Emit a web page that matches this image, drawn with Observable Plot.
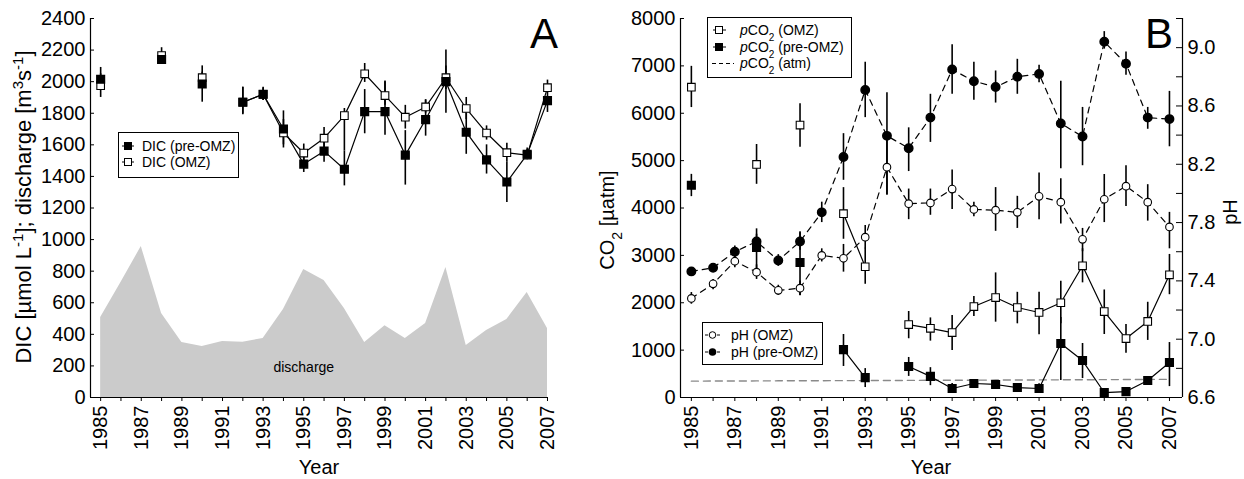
<!DOCTYPE html>
<html><head><meta charset="utf-8">
<script src="https://cdn.jsdelivr.net/npm/d3@7"></script>
<script src="https://cdn.jsdelivr.net/npm/@observablehq/plot@0.6"></script>
<style>
body{margin:0;background:#fff;}
#wrap{position:relative;width:1244px;height:479px;font-family:"Liberation Sans",Arial,sans-serif;background:#fff;overflow:hidden;}
#wrap svg{position:absolute;top:0;}
</style></head><body><div id="wrap"></div>
<script>
// ---------- DATA ----------
const years = [1985,1986,1987,1988,1989,1990,1991,1992,1993,1994,1995,1996,1997,1998,1999,2000,2001,2002,2003,2004,2005,2006,2007];
const yearLabels = [1985,1987,1989,1991,1993,1995,1997,1999,2001,2003,2005,2007];

// Panel A
const discharge = [507,728,956,532,348,323,355,350,374,557,810,741,564,348,455,374,468,823,329,424,494,665,437];
const dicPre   = [2015,null,null,2140,null,1985,null,1870,1920,1700,1478,1560,1445,1810,1810,1535,1760,2000,1680,1505,1365,1540,1880];
const dicPreLo = [1945,null,null,2110,null,1870,null,1795,1880,1580,1425,1490,1340,1670,1660,1345,1655,1800,1540,1415,1235,1510,1805];
const dicPreHi = [2090,null,null,2175,null,2060,null,1965,1965,1815,1540,1640,1560,1950,2005,1690,1885,2200,1820,1600,1490,1570,1950];
const dicOmz   = [1975,null,null,2165,null,2025,null,1870,1920,1675,1548,1642,1785,2050,1912,1775,1840,2025,1830,1675,1550,1535,1962];
const dicOmzLo = [1900,null,null,2130,null,1980,null,1790,1880,1600,1500,1560,1560,1995,1850,1700,1800,1950,1760,1630,1490,1505,1930];
const dicOmzHi = [2050,null,null,2215,null,2100,null,1965,1960,1760,1605,1710,1830,2115,2000,1850,1885,2100,1900,1720,1610,1580,2010];
const dicTicks = [0,200,400,600,800,1000,1200,1400,1600,1800,2000,2200,2400];

// Panel B
const pco2Omz   = [6550,null,null,4920,null,5750,null,3880,2760,null,1540,1460,1370,1920,2110,1900,1795,2000,2780,1815,1245,1605,2590];
const pco2OmzLo = [6120,null,null,4500,null,5280,null,3340,2390,null,1240,1190,990,1710,1590,1555,1325,1555,2420,1330,935,1205,2170];
const pco2OmzHi = [6990,null,null,5340,null,6200,null,4430,3150,null,1815,1680,1730,2130,2630,2220,2220,2455,3140,2270,1540,2010,3020];
const pco2Pre   = [4480,null,null,3170,null,2850,null,1010,420,null,655,445,190,295,275,210,190,1140,780,105,125,360,740];
const pco2PreLo = [4240,null,null,2700,null,2150,null,655,210,null,445,250,105,210,200,150,100,360,400,60,80,300,230];
const pco2PreHi = [4710,null,null,3560,null,3500,null,1330,610,null,845,630,295,380,340,270,290,1690,1140,150,170,420,1160];
const pco2Atm   = [345,347,349,350,352,354,355,356,357,359,361,363,364,366,368,369,371,373,375,377,379,381,383];
const phOmz   = [7.28,7.38,7.535,7.46,7.335,7.35,7.575,7.555,7.70,8.18,7.93,7.935,8.03,7.89,7.885,7.87,7.98,7.94,7.685,7.96,8.05,7.94,7.77];
const phOmzLo = [7.24,7.34,7.49,7.41,7.30,7.30,7.53,7.46,7.62,7.99,7.82,7.85,7.89,7.84,7.74,7.76,7.82,7.79,7.60,7.80,7.91,7.81,7.62];
const phOmzHi = [7.32,7.41,7.58,7.51,7.37,7.40,7.62,7.65,7.78,8.39,8.03,8.03,8.16,7.94,8.04,7.98,8.14,8.10,7.76,8.13,8.19,8.06,7.87];
const phPre   = [7.465,7.49,7.60,7.67,7.54,7.67,7.87,8.25,8.71,8.395,8.31,8.52,8.85,8.77,8.73,8.80,8.82,8.48,8.39,9.04,8.89,8.52,8.51];
const phPreLo = [7.44,7.47,7.56,7.62,7.50,7.61,7.80,8.09,8.52,7.99,8.15,8.35,8.68,8.64,8.62,8.68,8.76,8.17,8.19,8.99,8.81,8.44,8.32];
const phPreHi = [7.49,7.51,7.64,7.72,7.58,7.73,7.94,8.41,8.90,8.69,8.45,8.68,9.02,8.90,8.84,8.92,8.88,8.77,8.59,9.11,8.97,8.59,8.70];
const co2Ticks = [0,1000,2000,3000,4000,5000,6000,7000,8000];
const phLabelTicks = [6.6,7.0,7.4,7.8,8.2,8.6,9.0];
const phAllTicks = [6.6,6.8,7.0,7.2,7.4,7.6,7.8,8.0,8.2,8.4,8.6,8.8,9.0,9.2];

// ---------- SETTINGS ----------
const font = "'Liberation Sans', Arial, sans-serif";
const tickFont = 20;
const H = 479, mTop = 18, mBottom = 82;
const A = {left: 0, width: 590, mL: 90, mR: 42, xDomain: [1984.5, 2007.05], yDomain: [0, 2400]};
const B = {left: 590, width: 654, mL: 90, mR: 62, xDomain: [1984.5, 2007.6], yDomain: [0, 8000]};
const phDomain = [6.6, 9.2];
const co2FromPH = p => p == null ? null : (p - phDomain[0]) / (phDomain[1] - phDomain[0]) * B.yDomain[1];
const phFromCO2 = c => phDomain[0] + c / B.yDomain[1] * (phDomain[1] - phDomain[0]);

const rowsA = years.map((year, i) => ({year, q: discharge[i], pre: dicPre[i], preLo: dicPreLo[i], preHi: dicPreHi[i], omz: dicOmz[i], omzLo: dicOmzLo[i], omzHi: dicOmzHi[i]}));
const rowsB = years.map((year, i) => ({year,
  co2o: pco2Omz[i], co2oLo: pco2OmzLo[i], co2oHi: pco2OmzHi[i],
  co2p: pco2Pre[i], co2pLo: pco2PreLo[i], co2pHi: pco2PreHi[i],
  atm: pco2Atm[i],
  pho: co2FromPH(phOmz[i]), phoLo: co2FromPH(phOmzLo[i]), phoHi: co2FromPH(phOmzHi[i]),
  php: co2FromPH(phPre[i]), phpLo: co2FromPH(phPreLo[i]), phpHi: co2FromPH(phPreHi[i])}));

const xAxis = () => Plot.axisX(years, {tickSize: 4, tickPadding: 4, tickRotate: -90, fontSize: tickFont,
  tickFormat: d => yearLabels.includes(d) ? String(d) : "", label: null});

const wrap = document.getElementById("wrap");

// ---------- PANEL A ----------
const innerA = A.width - A.mL - A.mR;
const plotA = Plot.plot({
  width: A.width, height: H, marginLeft: A.mL, marginRight: A.mR, marginTop: mTop, marginBottom: mBottom,
  style: {fontFamily: font, fontSize: "20px", color: "black", background: "transparent", overflow: "visible"},
  x: {domain: A.xDomain}, y: {domain: A.yDomain},
  marks: [
    Plot.areaY(rowsA, {x: "year", y: "q", fill: "#cbcbcb"}),
    Plot.text([{year: 1995, v: 190, t: "discharge"}], {x: "year", y: "v", text: "t", fontSize: 14}),
    Plot.ruleX(rowsA, {x: "year", y1: "omzLo", y2: "omzHi", strokeWidth: 1.6}),
    Plot.ruleX(rowsA, {x: "year", y1: "preLo", y2: "preHi", strokeWidth: 1.6}),
    Plot.line(rowsA, {x: "year", y: "pre", strokeWidth: 1.2}),
    Plot.line(rowsA, {x: "year", y: "omz", strokeWidth: 1.2}),
    Plot.dot(rowsA, {x: "year", y: "omz", symbol: "square", r: 4.3, fill: "white", stroke: "black", strokeWidth: 1.1}),
    Plot.dot(rowsA, {x: "year", y: "pre", symbol: "square", r: 4.3, fill: "black", stroke: "black"}),
    Plot.ruleX([A.xDomain[0]], {y1: A.yDomain[0], y2: A.yDomain[1], strokeWidth: 1.2}),
    Plot.ruleY([A.yDomain[0]], {strokeWidth: 1.2}),
    Plot.tickY(dicTicks, {y: d => d, insetRight: innerA - 4}),
    Plot.axisY(dicTicks, {anchor: "left", tickSize: 0, tickPadding: 5, fontSize: tickFont, tickFormat: d => String(d), label: null}),
    xAxis()
  ]
});
plotA.style.left = A.left + "px";
wrap.appendChild(plotA);

// ---------- PANEL B ----------
const innerB = B.width - B.mL - B.mR;
const plotB = Plot.plot({
  width: B.width, height: H, marginLeft: B.mL, marginRight: B.mR, marginTop: mTop, marginBottom: mBottom,
  style: {fontFamily: font, fontSize: "20px", color: "black", background: "transparent", overflow: "visible"},
  x: {domain: B.xDomain}, y: {domain: B.yDomain},
  marks: [
    Plot.line(rowsB, {x: "year", y: "atm", stroke: "#8a8a8a", strokeWidth: 1.4, strokeDasharray: "7,5"}),
    Plot.ruleX(rowsB, {x: "year", y1: "phoLo", y2: "phoHi", strokeWidth: 1.6}),
    Plot.ruleX(rowsB, {x: "year", y1: "phpLo", y2: "phpHi", strokeWidth: 1.6}),
    Plot.ruleX(rowsB, {x: "year", y1: "co2oLo", y2: "co2oHi", strokeWidth: 1.6}),
    Plot.ruleX(rowsB, {x: "year", y1: "co2pLo", y2: "co2pHi", strokeWidth: 1.6}),
    Plot.line(rowsB, {x: "year", y: "pho", strokeWidth: 1.2, strokeDasharray: "6,5"}),
    Plot.line(rowsB, {x: "year", y: "php", strokeWidth: 1.2, strokeDasharray: "6,5"}),
    Plot.line(rowsB, {x: "year", y: "co2o", strokeWidth: 1.2}),
    Plot.line(rowsB, {x: "year", y: "co2p", strokeWidth: 1.2}),
    Plot.dot(rowsB, {x: "year", y: "pho", r: 3.8, fill: "white", stroke: "black", strokeWidth: 1.1}),
    Plot.dot(rowsB, {x: "year", y: "php", r: 4.2, fill: "black", stroke: "black"}),
    Plot.dot(rowsB, {x: "year", y: "co2o", symbol: "square", r: 4.3, fill: "white", stroke: "black", strokeWidth: 1.1}),
    Plot.dot(rowsB, {x: "year", y: "co2p", symbol: "square", r: 4.3, fill: "black", stroke: "black"}),
    Plot.ruleX(B.xDomain, {y1: B.yDomain[0], y2: B.yDomain[1], strokeWidth: 1.2}),
    Plot.ruleY([B.yDomain[0]], {strokeWidth: 1.2}),
    Plot.tickY(co2Ticks, {y: d => d, insetRight: innerB - 4}),
    Plot.axisY(co2Ticks, {anchor: "left", tickSize: 0, tickPadding: 5, fontSize: tickFont, tickFormat: d => String(d), label: null}),
    Plot.tickY(phAllTicks.map(co2FromPH), {y: d => d, insetLeft: innerB - 6}),
    Plot.axisY(phLabelTicks.map(co2FromPH), {anchor: "right", tickSize: 0, tickPadding: 5, fontSize: tickFont, tickFormat: d => phFromCO2(d).toFixed(1), label: null}),
    xAxis()
  ]
});
plotB.style.left = B.left + "px";
wrap.appendChild(plotB);

// ---------- OVERLAY: axis titles, panel letters, legends ----------
const ns = "http://www.w3.org/2000/svg";
const ov = document.createElementNS(ns, "svg");
ov.setAttribute("width", 1244); ov.setAttribute("height", 479);
ov.style.left = "0px"; ov.style.pointerEvents = "none";
ov.setAttribute("font-family", font);
ov.innerHTML = `
 <text x="530" y="48" font-size="42">A</text>
 <text x="1145" y="48" font-size="42">B</text>
 <text x="319" y="474" text-anchor="middle" font-size="20">Year</text>
 <text x="931" y="474" text-anchor="middle" font-size="20">Year</text>
 <text transform="translate(31,207) rotate(-90)" text-anchor="middle" font-size="22">DIC [µmol L<tspan baseline-shift="super" font-size="15">-1</tspan>]; discharge [m<tspan baseline-shift="super" font-size="15">3</tspan>s<tspan baseline-shift="super" font-size="15">-1</tspan>]</text>
 <text transform="translate(614,220) rotate(-90)" text-anchor="middle" font-size="20">CO<tspan baseline-shift="sub" font-size="14">2</tspan> [µatm]</text>
 <text transform="translate(1237,212) rotate(-90)" text-anchor="middle" font-size="20">pH</text>

 <g font-size="14">
  <rect x="118.5" y="132.5" width="120" height="45" fill="white" stroke="black"/>
  <line x1="122" x2="134" y1="146" y2="146" stroke="black"/>
  <rect x="124.5" y="142.5" width="7" height="7" fill="black" stroke="black"/>
  <text x="142" y="151">DIC (pre-OMZ)</text>
  <line x1="122" x2="134" y1="162" y2="162" stroke="black"/>
  <rect x="124.5" y="158.5" width="7" height="7" fill="white" stroke="black"/>
  <text x="142" y="167">DIC (OMZ)</text>
 </g>

 <g font-size="14">
  <rect x="707.5" y="17.5" width="144" height="60" fill="white" stroke="black"/>
  <line x1="713" x2="726" y1="30" y2="30" stroke="black"/>
  <rect x="715.5" y="26.5" width="7" height="7" fill="white" stroke="black"/>
  <text x="740" y="35"><tspan font-style="italic">p</tspan>CO<tspan baseline-shift="sub" font-size="10">2</tspan> (OMZ)</text>
  <line x1="713" x2="726" y1="47" y2="47" stroke="black"/>
  <rect x="715.5" y="43.5" width="7" height="7" fill="black" stroke="black"/>
  <text x="740" y="52"><tspan font-style="italic">p</tspan>CO<tspan baseline-shift="sub" font-size="10">2</tspan> (pre-OMZ)</text>
  <line x1="712" x2="734" y1="63.5" y2="63.5" stroke="black" stroke-dasharray="4,3"/>
  <text x="740" y="68"><tspan font-style="italic">p</tspan>CO<tspan baseline-shift="sub" font-size="10">2</tspan> (atm)</text>
 </g>

 <g font-size="14">
  <rect x="702.5" y="322.5" width="120" height="42" fill="white" stroke="black"/>
  <line x1="705" x2="720" y1="335" y2="335" stroke="black" stroke-dasharray="3,9"/>
  <circle cx="712.5" cy="335" r="3.3" fill="white" stroke="black"/>
  <text x="731" y="340">pH (OMZ)</text>
  <line x1="705" x2="720" y1="352" y2="352" stroke="black" stroke-dasharray="3,9"/>
  <circle cx="712.5" cy="352" r="3.8" fill="black"/>
  <text x="731" y="357">pH (pre-OMZ)</text>
 </g>`;
wrap.appendChild(ov);
</script>
</body></html>
